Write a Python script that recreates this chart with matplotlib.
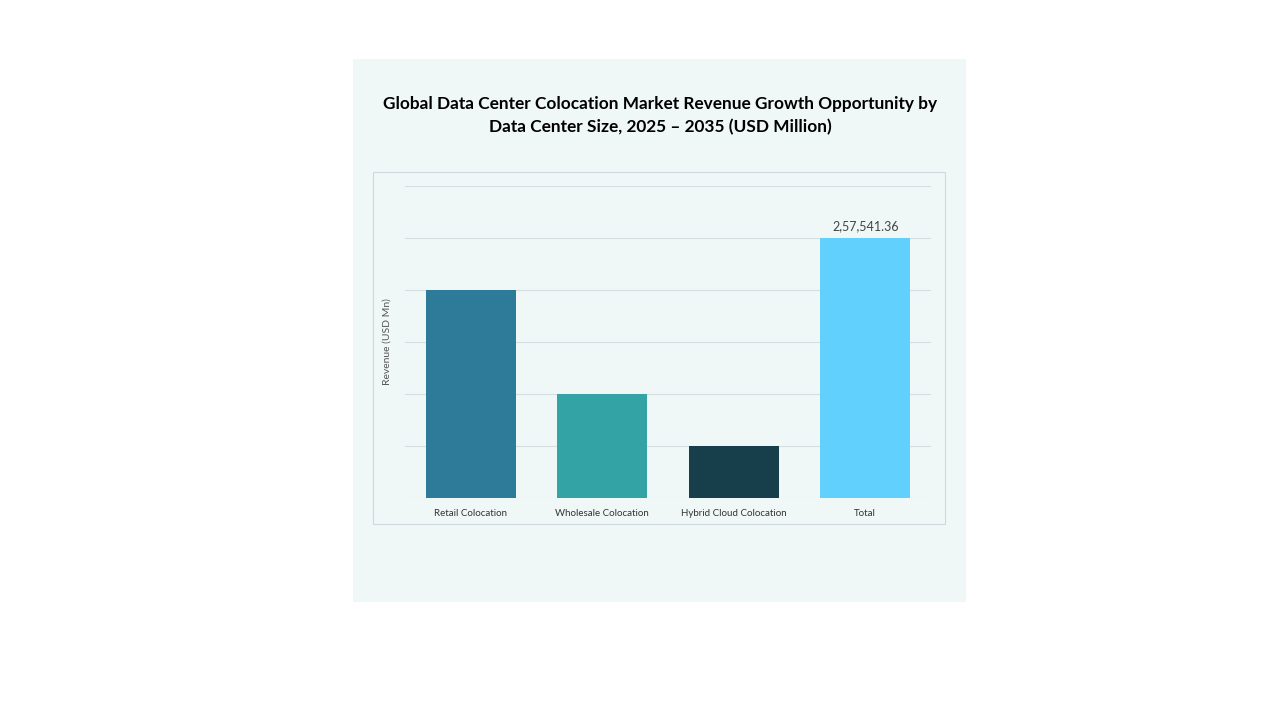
import matplotlib.pyplot as plt
from matplotlib.patches import Rectangle

categories = ['Retail Colocation', 'Wholesale Colocation', 'Hybrid Cloud Colocation', 'Total']
values = [206033.09, 103016.54, 51508.27, 257541.36]
colors = ['#2e7b99', '#33a3a6', '#173f4b', '#62d0fd']
total_label = '2,57,541.36'

plt.rcParams['font.family'] = ['Lato', 'DejaVu Sans']

fig = plt.figure(figsize=(12.8, 7.2), dpi=100)
fig.patch.set_facecolor('white')

# light panel behind the chart
fig.patches.append(Rectangle((353/1280, 1-602/720), 613/1280, 543/720,
                             transform=fig.transFigure, facecolor='#f0f7f7',
                             edgecolor='none', zorder=0))
# plot box border
fig.patches.append(Rectangle((373/1280, 1-524/720), 572/1280, 352/720,
                             transform=fig.transFigure, facecolor='none',
                             edgecolor='#cfd8dc', linewidth=0.8, zorder=1))

fig.text(660/1280, 1-104/720, 'Global Data Center Colocation Market Revenue Growth Opportunity by',
         ha='center', va='center', fontsize=12.4, fontweight='bold')
fig.text(660/1280, 1-127/720, 'Data Center Size, 2025 \u2013 2035 (USD Million)',
         ha='center', va='center', fontsize=12.4, fontweight='bold')

ax = fig.add_axes([405/1280, 1-498/720, 526/1280, 312/720])
ax.set_zorder(5)
ax.set_facecolor('none')
unit = 257541.36 / 5
ax.set_ylim(0, unit * 6)
ax.set_xlim(-0.5, 3.5)
ax.set_yticks([unit * i for i in range(7)])
ax.set_yticklabels([])
ax.tick_params(axis='y', length=0)
ax.tick_params(axis='x', length=0, labelsize=7, labelcolor='#333333', pad=8)
ax.grid(axis='y', color='#d5dfe2', linewidth=0.8)
ax.set_axisbelow(True)
for s in ax.spines.values():
    s.set_visible(False)

ax.bar(range(len(categories)), values, width=0.685, color=colors)
ax.set_xticks(range(len(categories)))
ax.set_xticklabels(categories)
ax.text(3, values[3] + unit * 0.12, total_label, ha='center', va='bottom',
        fontsize=9, color='#444444')
ax.set_ylabel('Revenue (USD Mn)', fontsize=7.5, color='#555555', labelpad=6)

fig.savefig('out.png', dpi=100)
